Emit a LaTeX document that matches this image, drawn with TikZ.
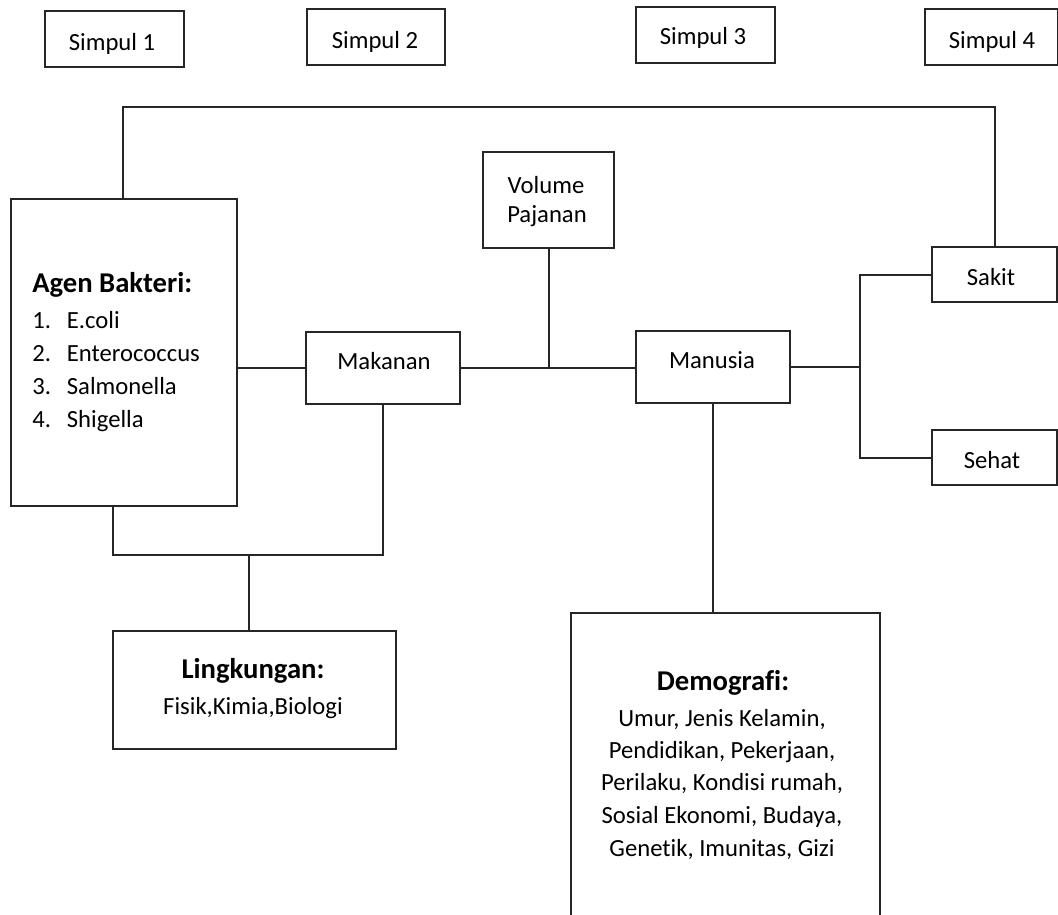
\documentclass[tikz,border=0pt]{standalone}
\usepackage{fontspec}
\setmainfont{Carlito}[Ligatures={NoCommon,NoContextual}]
\newcommand{\regf}{\fontsize{18.5}{24}\selectfont}
\newcommand{\hdf}{\fontsize{21.5}{26}\selectfont\bfseries}
\begin{document}
\begin{tikzpicture}[x=0.75pt,y=-0.75pt,
  sz/.style 2 args={minimum width=#1*0.75pt, minimum height=#2*0.75pt},
  box/.style={draw=black!85, line width=1.5pt, inner sep=0pt, rectangle, fill=white},
  conn/.style={draw=black!85, line width=1.5pt},
  lbl/.style={anchor=base, inner sep=0pt, font=\regf},
  lbll/.style={anchor=base west, inner sep=0pt, font=\regf},
  hd/.style={anchor=base, inner sep=0pt, font=\hdf}]
\clip (0,0) rectangle (1058,915);
\fill[white] (0,0) rectangle (1058,915);

\coordinate (loopL) at (123,107);
\coordinate (hub) at (860,367);
\coordinate (j1) at (249,555);

% boxes
\node[box, sz={139}{56}] (s1) at (114.5,39) {};
\node[box, sz={138}{56}] (s2) at (376,37) {};
\node[box, sz={139}{56}] (s3) at (705.5,35) {};
\node[box, sz={133}{56}] (s4) at (991.5,37) {};
\node[box, sz={226}{307}] (agen) at (124,352.5) {};
\node[box, sz={154}{72}] (mak) at (383,368) {};
\node[box, sz={131}{96}] (vol) at (548.5,200) {};
\node[box, sz={154}{72}] (man) at (713,367) {};
\node[box, sz={125}{55}] (sakit) at (994.5,274.5) {};
\node[box, sz={125}{55}] (sehat) at (994.5,457.5) {};
\node[box, sz={283}{118}] (ling) at (254.5,690) {};
\node[box, sz={309}{317}] (demo) at (725.5,771.5) {};

% connectors
\draw[conn] (agen.north -| loopL) -- (loopL) -| (sakit.north);
\draw[conn] (mak.west) -- (mak.west -| agen.east);
\draw[conn] (mak.east) -- (mak.east -| man.west);
\draw[conn] (vol.south) -- (vol.south |- mak.east);
\draw[conn] (man.east) -- (hub);
\draw[conn] (sakit.west) -| (hub) |- (sehat.west);
\draw[conn] (agen.south -| 113,0) -- (113,555) -- (mak.south |- j1) -- (mak.south);
\draw[conn] (j1) -- (ling.north -| j1);
\draw[conn] (man.south) -- (man.south |- demo.north);

% labels
\node[lbl] (t1) at (112,50) {Simpul 1};
\node[lbl] (t2) at (375,48) {Simpul 2};
\node[lbl] (t3) at (703,44) {Simpul 3};
\node[lbl] (t4) at (992,48) {Simpul 4};

\node[anchor=base west, inner sep=0pt, font=\hdf] (agenh) at (32,292) {Agen Bakteri:};
\node[lbll] (a1) at (32,328) {\makebox[26pt][l]{1.}E.coli};
\node[lbll] (a2) at (32,361) {\makebox[26pt][l]{2.}Enterococcus};
\node[lbll] (a3) at (32,394) {\makebox[26pt][l]{3.}Salmonella};
\node[lbll] (a4) at (32,427) {\makebox[26pt][l]{4.}Shigella};

\node[lbl] (makt) at (384,369) {Makanan};
\node[lbl] (volt1) at (546,193) {Volume};
\node[lbl] (volt2) at (547,222) {Pajanan};
\node[lbl] (mant) at (712,368) {Manusia};
\node[lbl] (sakt) at (991,285) {Sakit};
\node[lbl] (seht) at (992,468) {Sehat};

\node[hd] (lingh) at (253,678) {Lingkungan:};
\node[lbl] (lingt) at (253,714) {Fisik,Kimia,Biologi};

\node[hd] (demoh) at (723,690) {Demografi:};
\node[lbl] (d1) at (722,726) {Umur, Jenis Kelamin,};
\node[lbl] (d2) at (722,758) {Pendidikan, Pekerjaan,};
\node[lbl] (d3) at (722,790) {Perilaku, Kondisi rumah,};
\node[lbl] (d4) at (722,823) {Sosial Ekonomi, Budaya,};
\node[lbl] (d5) at (722,856) {Genetik, Imunitas, Gizi};
\end{tikzpicture}
\end{document}
